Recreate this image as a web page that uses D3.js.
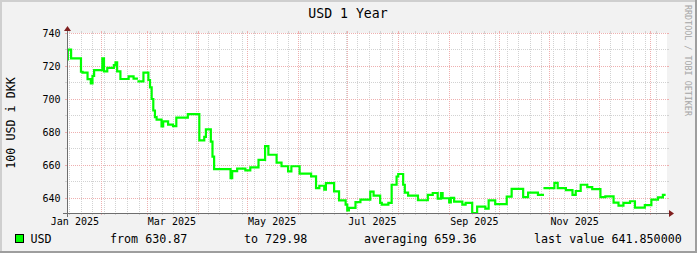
<!DOCTYPE html>
<html><head><meta charset="utf-8">
<script src="https://cdn.jsdelivr.net/npm/d3@7"></script>
<style>
html,body{margin:0;padding:0;background:#f2f2f2;}
svg{display:block;}
text{font-family:"DejaVu Sans Mono",monospace;}
</style>
</head><body>
<svg id="chart" width="697" height="253"></svg>
<script>
// ---- data ----
const dates = [
"2025-01-11","2025-01-12","2025-01-14","2025-01-20","2025-01-21","2025-01-24","2025-01-26","2025-01-27","2025-01-28",
"2025-02-02","2025-02-03","2025-02-05","2025-02-09","2025-02-10","2025-02-11","2025-02-13","2025-02-18","2025-02-21",
"2025-02-23","2025-02-24","2025-02-27","2025-03-02","2025-03-03","2025-03-04","2025-03-05","2025-03-06","2025-03-07",
"2025-03-10","2025-03-11","2025-03-14","2025-03-17","2025-03-19","2025-03-26","2025-04-02","2025-04-05","2025-04-06",
"2025-04-09","2025-04-10","2025-04-11","2025-04-21","2025-04-22","2025-04-25","2025-04-30","2025-05-03","2025-05-08",
"2025-05-12","2025-05-14","2025-05-19","2025-05-22","2025-05-26","2025-05-28","2025-06-02","2025-06-09","2025-06-12",
"2025-06-14","2025-06-17","2025-06-18","2025-06-23","2025-06-26","2025-06-30","2025-07-01","2025-07-02","2025-07-06",
"2025-07-09","2025-07-15","2025-07-17","2025-07-21","2025-07-22","2025-07-26","2025-07-28","2025-07-31","2025-08-01",
"2025-08-04","2025-08-05","2025-08-07","2025-08-13","2025-08-19","2025-08-22","2025-08-25","2025-08-27","2025-08-28",
"2025-09-01","2025-09-02","2025-09-04","2025-09-09","2025-09-11","2025-09-15","2025-09-18","2025-09-23","2025-09-25",
"2025-09-29","2025-10-06","2025-10-09","2025-10-16","2025-10-19","2025-10-25","2025-10-28","2025-10-29","2025-11-04",
"2025-11-06","2025-11-11","2025-11-15","2025-11-17","2025-11-20","2025-11-24","2025-11-27","2025-12-02","2025-12-05",
"2025-12-10","2025-12-13","2025-12-16","2025-12-20","2025-12-23","2025-12-29","2026-01-02","2026-01-06","2026-01-09",
"2026-01-10"
];
const usd = [
724.0,729.9,724.6,716.5,716.0,712.0,709.5,714.0,717.5,
724.6,716.7,718.8,720.5,722.2,716.7,712.1,713.7,712.3,
null,710.7,716.0,711.5,707.0,700.0,693.0,689.0,687.5,
683.4,686.4,684.4,683.5,688.7,690.8,674.9,677.0,681.6,
674.1,665.0,657.5,652.0,656.2,657.8,656.7,658.5,663.1,
671.4,666.2,661.4,659.2,656.1,659.2,654.7,653.1,646.0,
647.4,645.0,649.0,644.0,638.5,636.0,632.5,634.0,637.5,
639.0,643.8,641.4,637.0,636.0,637.0,648.0,653.0,654.5,
648.0,643.2,641.4,638.6,641.8,643.0,639.6,643.0,639.8,
637.3,640.0,637.8,636.0,637.0,630.87,634.7,633.5,638.5,
636.2,640.8,645.5,640.5,643.2,641.9,null,646.0,649.1,
646.0,644.7,641.8,644.2,648.0,646.6,645.4,640.5,641.0,
637.1,635.4,637.0,638.0,634.1,635.6,639.0,640.4,641.85,
641.85
];
const timeRange = ["2025-01-11T12:00:00Z","2026-01-11T12:00:00Z"];
const yRange = [630.87, 740];
const yMajorTicks = [640,660,680,700,720,740];
const yMinorTicks = [650,670,690,710,730];
const xTickLabels = ["Jan 2025","Mar 2025","May 2025","Jul 2025","Sep 2025","Nov 2025"];
const xTickDates = ["2025-01-01","2025-03-01","2025-05-01","2025-07-01","2025-09-01","2025-11-01"];
const titleText = "USD 1 Year";
const yTitle = "100 USD i DKK";
const watermark = "RRDTOOL / TOBI OETIKER";
const seriesName = "USD";
const legendTexts = ["from 630.87","to 729.98","averaging 659.36","last value 641.850000"];

// ---- layout ----
const W = 697, H = 253;
const x0 = 67, x1 = 667, yBot = 213, yTop = 33;
const svg = d3.select("#chart");
const parseD = d3.utcParse("%Y-%m-%d");

const x = d3.scaleUtc().domain(timeRange.map(s => new Date(s))).range([x0, x1]);
const y = d3.scaleLinear().domain(yRange).range([yBot, yTop]);

// background + shaded border
svg.append("rect").attr("width", W).attr("height", H).attr("fill", "#f2f2f2");
svg.append("rect").attr("x",0).attr("y",0).attr("width",W).attr("height",2).attr("fill","#cfcfcf");
svg.append("rect").attr("x",0).attr("y",0).attr("width",2).attr("height",H).attr("fill","#cfcfcf");
svg.append("rect").attr("x",0).attr("y",H-2).attr("width",W).attr("height",2).attr("fill","#9e9e9e");
svg.append("rect").attr("x",W-2).attr("y",0).attr("width",2).attr("height",H).attr("fill","#9e9e9e");

// plot canvas
svg.append("rect").attr("x", x0).attr("y", yTop).attr("width", x1 - x0).attr("height", yBot - yTop).attr("fill", "#ffffff");

const grid = svg.append("g").attr("shape-rendering", "crispEdges");
const minorCol = "#d2d2d2", majorCol = "#eeb0b0";

function hLine(v, col) {
  const yy = Math.round(y(v)) + 0.5;
  grid.append("line").attr("x1", x0).attr("x2", x1).attr("y1", yy).attr("y2", yy)
    .attr("stroke", col).attr("stroke-dasharray", "1,1");
  grid.append("line").attr("x1", x0 - 2).attr("x2", x0).attr("y1", yy).attr("y2", yy).attr("stroke", col);
  grid.append("line").attr("x1", x1).attr("x2", x1 + 2).attr("y1", yy).attr("y2", yy).attr("stroke", col);
}
function vLine(t, col) {
  const xx = Math.round(x(t)) + 0.5;
  if (xx < x0 || xx > x1) return;
  grid.append("line").attr("x1", xx).attr("x2", xx).attr("y1", yTop).attr("y2", yBot)
    .attr("stroke", col).attr("stroke-dasharray", "1,1");
  grid.append("line").attr("x1", xx).attr("x2", xx).attr("y1", yTop - 2).attr("y2", yTop).attr("stroke", col);
  grid.append("line").attr("x1", xx).attr("x2", xx).attr("y1", yBot).attr("y2", yBot + 2).attr("stroke", col);
}
yMinorTicks.forEach(v => hLine(v, minorCol));
d3.utcMonday.range(x.domain()[0], x.domain()[1]).forEach(t => vLine(t, minorCol));
yMajorTicks.forEach(v => hLine(v, majorCol));
d3.utcMonth.range(x.domain()[0], x.domain()[1]).forEach(t => vLine(t, majorCol));

// axis labels
const yAxis = d3.axisLeft(y).tickValues(yMajorTicks).tickSize(0).tickPadding(6.5).tickFormat(d3.format("d"));
const gy = svg.append("g").attr("transform", `translate(${x0},0)`).call(yAxis);
gy.select(".domain").remove();
gy.selectAll("text").attr("font-family", "DejaVu Sans Mono").attr("font-size", "10px").attr("fill", "#000");

const labelMap = new Map(xTickDates.map((d, i) => [+d3.utcDay.offset(parseD(d), 15), xTickLabels[i]]));
const xAxis = d3.axisBottom(x).tickValues(xTickDates.map(d => d3.utcDay.offset(parseD(d), 15)))
  .tickSize(0).tickPadding(5).tickFormat(d => labelMap.get(+d));
const gx = svg.append("g").attr("transform", `translate(0,${yBot})`).call(xAxis);
gx.select(".domain").remove();
gx.selectAll("text").attr("font-family", "DejaVu Sans Mono").attr("font-size", "10px").attr("fill", "#000");

// data line (step, with gaps)
const pts = [];
dates.forEach((d, i) => {
  const t = parseD(d), v = usd[i];
  if (v === null) {
    if (i > 0 && usd[i - 1] !== null) pts.push({t, v: usd[i - 1]});
    pts.push({t, v: null});
  } else pts.push({t, v});
});
svg.append("clipPath").attr("id", "clip").append("rect")
  .attr("x", x0).attr("y", 0).attr("width", x1 - x0 + 1).attr("height", H);
const line = d3.line().defined(p => p.v !== null).x(p => x(p.t)).y(p => y(p.v)).curve(d3.curveStepAfter);
svg.append("path").datum(pts).attr("clip-path", "url(#clip)")
  .attr("d", line).attr("fill", "none").attr("stroke", "#00ff00").attr("stroke-width", 2.2)
  .attr("stroke-linejoin", "miter").attr("stroke-linecap", "square");

// axes lines + arrows
svg.append("line").attr("x1", x0 - 4).attr("x2", x1 + 4).attr("y1", yBot + 0.5).attr("y2", yBot + 0.5)
  .attr("stroke", "#6e6e6e").attr("stroke-width", 1);
svg.append("line").attr("x1", x0 + 0.5).attr("x2", x0 + 0.5).attr("y1", yBot + 4).attr("y2", yTop - 4)
  .attr("stroke", "#6e6e6e").attr("stroke-width", 1);
svg.append("path").attr("d", `M${x1+2},${yBot-3} L${x1+2},${yBot+4} L${x1+7},${yBot+0.5} Z`).attr("fill", "#801f1f");
svg.append("path").attr("d", `M${x0-3},${yTop-2} L${x0+4},${yTop-2} L${x0+0.5},${yTop-7} Z`).attr("fill", "#801f1f");

// title
svg.append("text").attr("x", 348).attr("y", 17.5).attr("text-anchor", "middle")
  .attr("font-size", "13.2px").attr("fill", "#000").text(titleText);
// y title
svg.append("text").attr("transform", "translate(15,123) rotate(-90)").attr("text-anchor", "middle")
  .attr("font-size", "11.7px").attr("fill", "#000").text(yTitle);
// watermark
svg.append("text").attr("transform", "translate(685,5) rotate(90)").attr("text-anchor", "start")
  .attr("font-size", "8.4px").attr("fill", "#a6a6a6").text(watermark);

// legend
svg.append("rect").attr("x", 15.5).attr("y", 234.5).attr("width", 8).attr("height", 8)
  .attr("fill", "#00ff00").attr("stroke", "#000").attr("stroke-width", 1);
const legX = [30.5, 110, 244, 364, 534];
const legAll = [seriesName].concat(legendTexts);
legAll.forEach((s, i) => {
  svg.append("text").attr("x", legX[i]).attr("y", 243).attr("font-size", "11.7px")
    .attr("fill", "#000").attr("xml:space", "preserve").text(s);
});
</script>
</body></html>
